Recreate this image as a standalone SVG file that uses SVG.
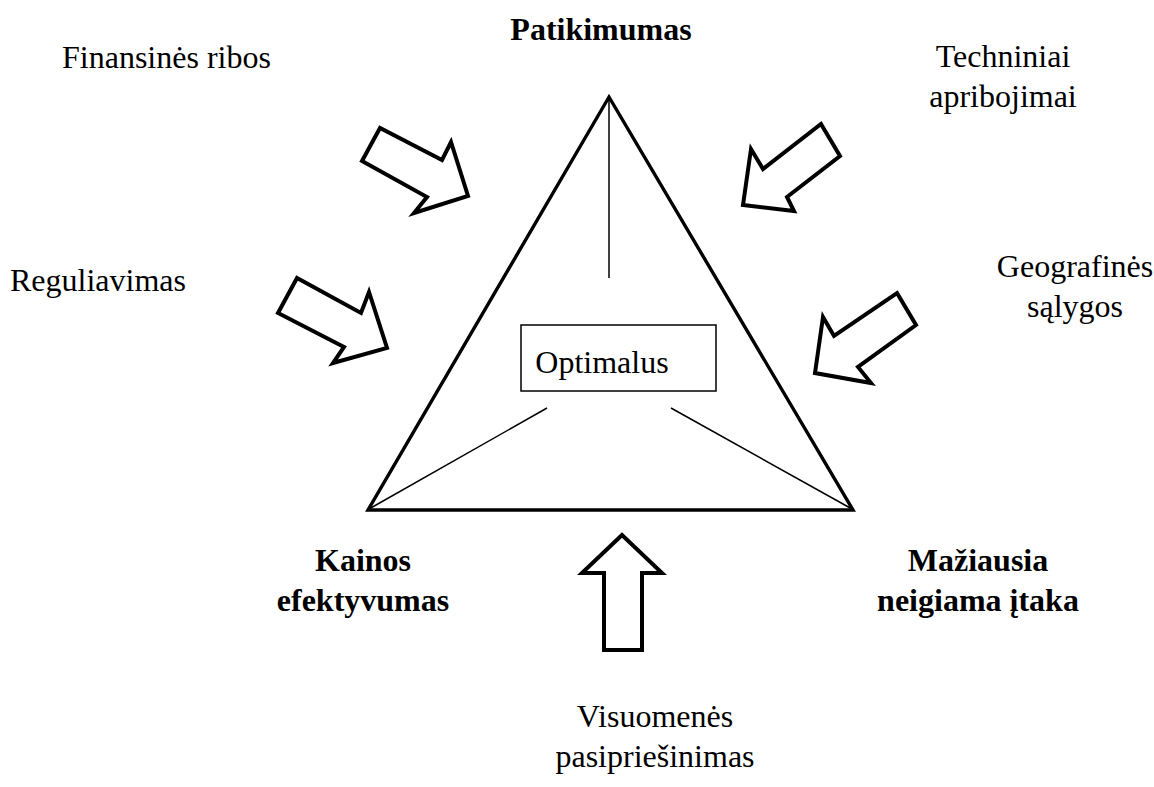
<svg xmlns="http://www.w3.org/2000/svg" width="1154" height="787" viewBox="0 0 1154 787">
<style>
text{font-family:"Liberation Serif","Times New Roman",serif;font-size:32px;fill:#000}
.b{font-weight:bold}
.m{text-anchor:middle}
.arr{fill:#fff;stroke:#000;stroke-width:4;stroke-linejoin:miter}
.thin{stroke:#000;stroke-width:1.5;fill:none}
</style>
<rect width="1154" height="787" fill="#fff"/>
<g id="triangle">
<polygon points="609,97 368,510 853,510" fill="none" stroke="#000" stroke-width="3.4" stroke-linejoin="miter"/>
</g>
<g id="connectors">
<line class="thin" x1="609" y1="97" x2="609" y2="278"/>
<line class="thin" x1="547" y1="408" x2="369" y2="509"/>
<line class="thin" x1="671" y1="408" x2="852" y2="509"/>
<polygon id="arrow-finansines" class="arr" points="380,128 362,161 427,197 414,213 468,196 451,142 442,160"/>
<polygon id="arrow-reguliavimas" class="arr" points="297,278 278,313 344,347 333,363 387,348 369,292 361,313"/>
<polygon id="arrow-techniniai" class="arr" points="821,124 840,156 787,197 794,211 743,205 751,149 763,169"/>
<polygon id="arrow-geografines" class="arr" points="897,293 916,325 858,367 871,383 815,373 823,317 834,336"/>
<polygon id="arrow-visuomenes" class="arr" points="622,535 582,573 604,573 604,650 642,650 642,573 662,573"/>
</g>
<g id="node-optimalus">
<rect x="521" y="325" width="195" height="66" fill="#fff" stroke="#000" stroke-width="1.5"/>
<text x="602" y="373" class="m">Optimalus</text>
</g>
<g id="node-patikimumas"><text x="601" y="40" class="b m">Patikimumas</text></g>
<g id="node-kainos"><text x="363" y="571" class="b m">Kainos</text><text x="363" y="611" class="b m">efektyvumas</text></g>
<g id="node-maziausia"><text x="978" y="571" class="b m">Mažiausia</text><text x="978" y="611" class="b m">neigiama įtaka</text></g>
<g id="label-finansines"><text x="62" y="68">Finansinės ribos</text></g>
<g id="label-techniniai"><text x="1003" y="67" class="m">Techniniai</text><text x="1003" y="107" class="m">apribojimai</text></g>
<g id="label-reguliavimas"><text x="10" y="291">Reguliavimas</text></g>
<g id="label-geografines"><text x="1075" y="277" class="m">Geografinės</text><text x="1075" y="317" class="m">sąlygos</text></g>
<g id="label-visuomenes"><text x="655" y="727" class="m">Visuomenės</text><text x="655" y="767" class="m">pasipriešinimas</text></g>
</svg>
